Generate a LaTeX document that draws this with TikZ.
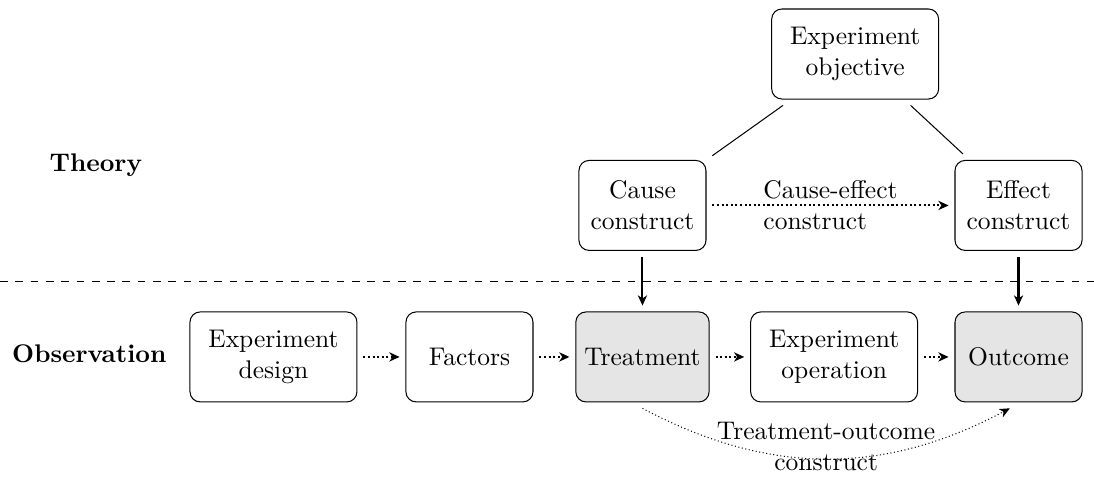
\documentclass[tikz,border=0pt]{standalone}
\usetikzlibrary{arrows.meta}

\begin{document}
\begin{tikzpicture}[
    box/.style={draw, rounded corners, align=center, minimum width=1.75cm, minimum height=1.24cm, outer sep=2.5pt},
    widebox/.style={box, minimum width=2.3cm},
    hit/.style={fill=gray!20},
    tip/.style={-{Stealth[length=4pt,width=3.6pt,inset=1.2pt]}},
    flow/.style={tip, thick, densely dotted},
    link/.style={tip, thick}
]
            \useasboundingbox (0,0) rectangle (15.07,-6.65);
            \node[font=\bfseries](theory) at (1.32,-2.27) {Theory};
            \node[font=\bfseries](obs) at (1.23,-4.87) {Observation};

            \node[widebox](obj) at (11.78,-0.744) {Experiment\\objective};
            \node[box](cause) at (8.85,-2.83) {Cause\\construct};
            \node[box](effect) at (14.03,-2.83) {Effect\\construct};

            \node[widebox](design) at (3.767,-4.917) {Experiment\\design};
            \node[box](factors) at (6.467,-4.917) {Factors};
            \node[box,hit](treat) at (8.85,-4.917) {Treatment};
            \node[widebox](oper) at (11.49,-4.917) {Experiment\\operation};
            \node[box,hit](outc) at (14.03,-4.917) {Outcome};

            \draw[dashed] (0,-3.88) -- (15.07,-3.88);

            \draw (obj) -- (cause);
            \draw (obj) -- (effect);
            \draw[flow] (cause) -- node[align=left]{Cause-effect\\construct}(effect);
            \draw[link] (cause) -- (treat);
            \draw[link] (effect) -- (outc);

            \draw[flow] (design) -- (factors);
            \draw[flow] (factors) -- (treat);
            \draw[flow] (treat) -- (oper);
            \draw[flow] (oper) -- (outc);
            \draw[tip, densely dotted] (treat.south) to[bend right=28] node[align=center,yshift=0.17cm]{Treatment-outcome\\construct}([xshift=-0.12cm]outc.south);
\end{tikzpicture}
\end{document}
